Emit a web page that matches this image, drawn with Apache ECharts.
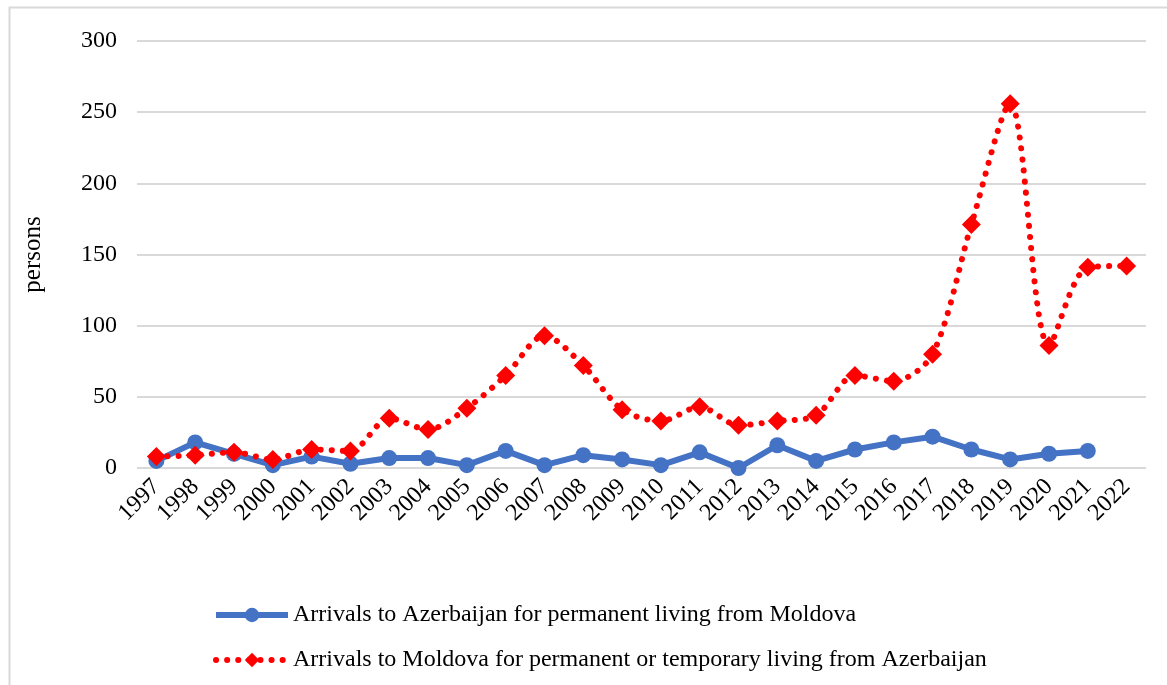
<!DOCTYPE html>
<html>
<head>
<meta charset="utf-8">
<script src="https://cdn.jsdelivr.net/npm/echarts@6/dist/echarts.min.js"></script>
<style>html,body{margin:0;padding:0;background:#fff}#c{width:1167px;height:685px}</style>
</head>
<body>
<div id="c"></div>
<script>
const years = ['1997','1998','1999','2000','2001','2002','2003','2004','2005','2006','2007','2008','2009','2010','2011','2012','2013','2014','2015','2016','2017','2018','2019','2020','2021','2022'];
const toAzerbaijan = [5,18,10,2,8,3,7,7,2,12,2,9,6,2,11,0,16,5,13,18,22,13,6,10,12,null];
const toMoldova = [8,9,11,6,13,12,35,27,42,65,93,72,41,33,43,30,33,37,65,61,80,171,256,86,141,142];
const yTicks = {min:0, max:300, interval:50};
const nameBlue = 'Arrivals to Azerbaijan for permanent living from Moldova';
const nameRed = 'Arrivals to Moldova for permanent or temporary living from Azerbaijan';
const font = '"Liberation Serif", "Times New Roman", serif';

const chart = echarts.init(document.getElementById('c'));
chart.setOption({
  animation: false,
  backgroundColor: '#fff',
  graphic: [{
    type: 'rect', left: 7, top: 5, silent: true,
    shape: {width: 1200, height: 720},
    style: {fill: 'none', stroke: '#d9d9d9', lineWidth: 2}
  }],
  grid: {left: 137, right: 21, top: 41, bottom: 217},
  legend: {
    orient: 'vertical', left: 213, top: 603, itemGap: 21, padding: 0,
    itemWidth: 72, itemHeight: 18,
    lineStyle: {width: 6},
    textStyle: {fontFamily: font, fontSize: 24, color: '#000'},
    data: [nameBlue, nameRed]
  },
  xAxis: {
    type: 'category', data: years, boundaryGap: true,
    axisLine: {show: false}, axisTick: {show: false},
    axisLabel: {rotate: 45, fontFamily: font, fontSize: 24, color: '#000', margin: 15, interval: 0}
  },
  yAxis: {
    type: 'value', min: yTicks.min, max: yTicks.max, interval: yTicks.interval,
    name: 'persons', nameLocation: 'middle', nameGap: 91, nameRotate: 90,
    nameTextStyle: {fontFamily: font, fontSize: 25, color: '#000'},
    axisLine: {show: false}, axisTick: {show: false},
    axisLabel: {fontFamily: font, fontSize: 24, color: '#000', margin: 20},
    splitLine: {lineStyle: {color: '#d9d9d9', width: 2}}
  },
  series: [
    {
      name: nameBlue, type: 'line', data: toAzerbaijan,
      symbol: 'circle', symbolSize: 16,
      itemStyle: {color: '#4472C4'},
      lineStyle: {color: '#4472C4', width: 6},
      z: 2
    },
    {
      name: nameRed, type: 'line', data: toMoldova, smooth: 0.3,
      symbol: 'diamond', symbolSize: 19,
      itemStyle: {color: '#FF0000'},
      lineStyle: {color: '#FF0000', width: 6, type: [0.1, 11], cap: 'round'},
      z: 3
    }
  ]
});
</script>
</body>
</html>
